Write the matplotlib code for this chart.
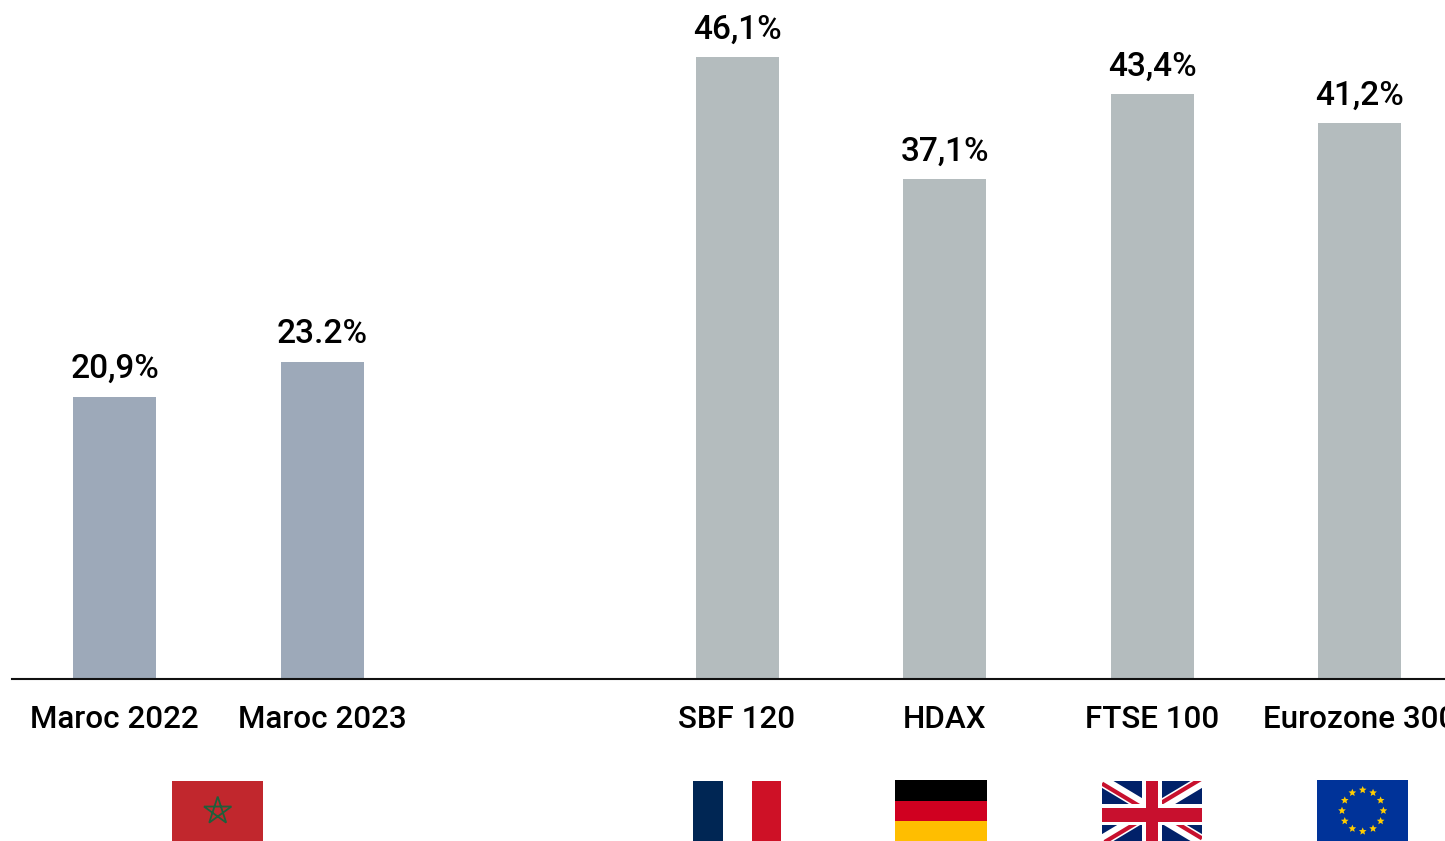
import numpy as np
import matplotlib
matplotlib.use("Agg")
import matplotlib.pyplot as plt
from matplotlib.patches import Rectangle, Polygon

categories = ["Maroc 2022", "Maroc 2023", "SBF 120", "HDAX", "FTSE 100", "Eurozone 300"]
# heights as drawn in the picture (the 2023 bar stands a bit above its label)
values = [20.9, 23.5, 46.1, 37.05, 43.35, 41.2]
value_labels = ["20,9%", "23.2%", "46,1%", "37,1%", "43,4%", "41,2%"]
slots = [0, 1, 3, 4, 5, 6]
bar_colors = ["#9DA9B9", "#9DA9B9", "#B4BCBE", "#B4BCBE", "#B4BCBE", "#B4BCBE"]

W, H = 1445, 841
plt.rcParams['font.family'] = ['Roboto', 'DejaVu Sans']

fig = plt.figure(figsize=(W / 100, H / 100), dpi=100)
ax = fig.add_axes([11.5 / W, (H - 679) / H, (W - 11.5) / W, 679 / H])

ax.bar(slots, values, width=0.4, color=bar_colors)
for s, v, lab in zip(slots, values, value_labels):
    ax.annotate(lab, (s, v), xytext=(0, 13.5), textcoords='offset points',
                ha='center', va='baseline', fontsize=24, color='black', weight=500)

ax.set_xlim(-0.4964, 6.412)
ax.set_ylim(0, 50.33)
ax.set_xticks(slots)
ax.set_xticklabels(categories, fontsize=22.6, color='black', weight=500)
ax.tick_params(axis='x', length=0, pad=19)
ax.set_yticks([])
for side in ['top', 'left', 'right']:
    ax.spines[side].set_visible(False)
ax.spines['bottom'].set_linewidth(1.5)
ax.spines['bottom'].set_color('#111111')

# flags, in pixel coordinates of the picture
fl = fig.add_axes([0, 0, 1, 1], zorder=3)
fl.set_xlim(0, W)
fl.set_ylim(H, 0)
fl.axis('off')
fl.patch.set_alpha(0)


def rect(x0, y0, x1, y1, c, z=1):
    return fl.add_patch(Rectangle((x0, y0), x1 - x0, y1 - y0, fc=c, ec='none', zorder=z))


def star_points(cx, cy, r, order):
    ang = np.radians(-90 + 72 * np.array(order))
    return np.column_stack([cx + r * np.cos(ang), cy + r * np.sin(ang)])


def solid_star(cx, cy, r):
    ang = np.radians(-90 + 36 * np.arange(10))
    rad = np.where(np.arange(10) % 2 == 0, r, r * 0.45)
    return np.column_stack([cx + rad * np.cos(ang), cy + rad * np.sin(ang)])


# Morocco
rect(172, 781, 263, 841, '#C1272D')
fl.add_patch(Polygon(star_points(217.7, 811, 14.4, [0, 2, 4, 1, 3]), closed=True,
                     fc='none', ec='#1F5F3A', lw=1.3))

# France
rect(693, 781, 722.5, 841, '#002654')
rect(722.5, 781, 752, 841, 'white')
rect(752, 781, 781, 841, '#CE1126')

# Germany
rect(895, 780, 987, 800.5, 'black')
rect(895, 800.5, 987, 821, '#D00020')
rect(895, 821, 987, 841, '#FFBE00')

# UK
x0, x1, y0, y1 = 1102, 1202, 781, 841
xc, yc = (x0 + x1) / 2, (y0 + y1) / 2
clip = rect(x0, y0, x1, y1, '#012169', z=1)
for (a, b) in [((x0, y0), (x1, y1)), ((x0, y1), (x1, y0))]:
    l1, = fl.plot([a[0], b[0]], [a[1], b[1]], color='white', lw=8.5,
                  solid_capstyle='butt', zorder=1.1)
    l1.set_clip_path(clip)
# red diagonals sit off centre, turning round the middle
for (cx, cy, dy) in [(x0, y0, 2.6), (x1, y0, -2.6), (x1, y1, -2.6), (x0, y1, 2.6)]:
    l2, = fl.plot([cx, xc], [cy + dy, yc + dy], color='#C8102E', lw=3,
                  solid_capstyle='butt', zorder=1.2)
    l2.set_clip_path(clip)
rect(1142, y0, 1162, y1, 'white', z=1.3)
rect(x0, 804, x1, 825, 'white', z=1.3)
rect(1146, y0, 1158, y1, '#C8102E', z=1.4)
rect(x0, 807.5, x1, 822, '#C8102E', z=1.4)

# EU
rect(1317, 780, 1408, 841, '#003399')
for i in range(12):
    a = np.radians(30 * i)
    fl.add_patch(Polygon(solid_star(1362.7 + 20.7 * np.cos(a), 810.7 + 20.7 * np.sin(a), 4),
                         closed=True, fc='#FFCC00', ec='none'))

fig.savefig('out.png', dpi=100)
